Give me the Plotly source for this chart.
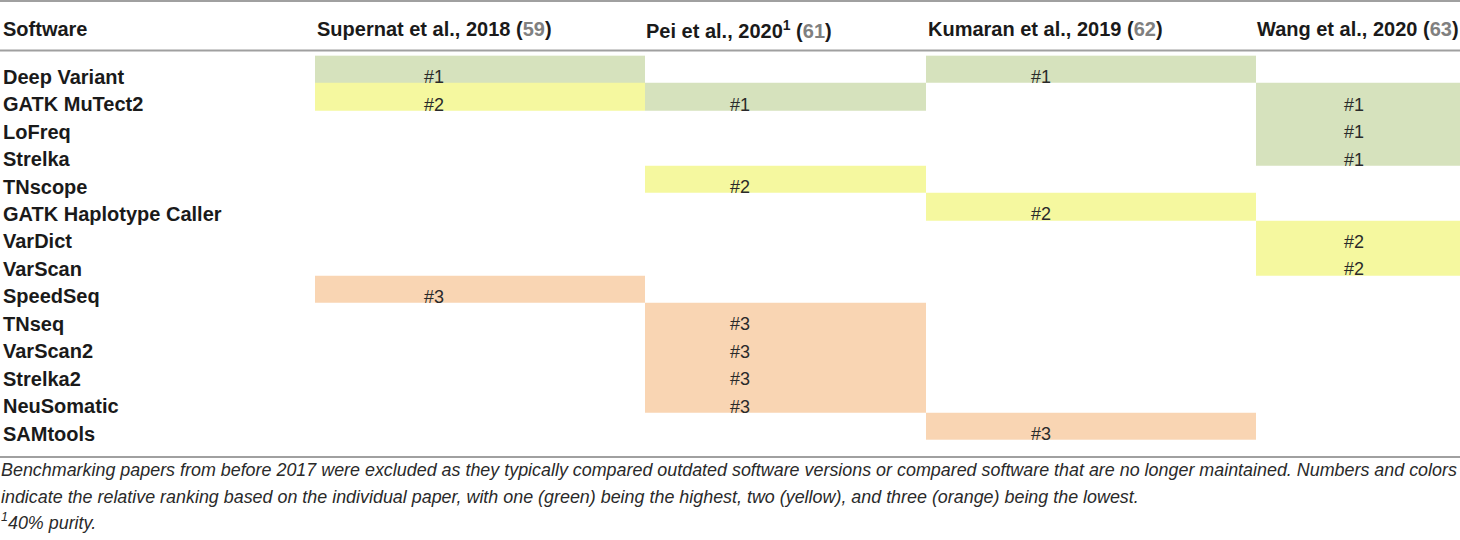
import plotly.graph_objects as go

# table content
software = ["Deep Variant", "GATK MuTect2", "LoFreq", "Strelka", "TNscope",
            "GATK Haplotype Caller", "VarDict", "VarScan", "SpeedSeq", "TNseq",
            "VarScan2", "Strelka2", "NeuSomatic", "SAMtools"]
papers = ["Supernat et al., 2018", "Pei et al., 2020<sup>1</sup>",
          "Kumaran et al., 2019", "Wang et al., 2020"]
refs = ["59", "61", "62", "63"]

# rank of each software in each paper (None = not ranked)
supernat = [1, 2, None, None, None, None, None, None, 3, None, None, None, None, None]
pei = [None, 1, None, None, 2, None, None, None, None, 3, 3, 3, 3, None]
kumaran = [1, None, None, None, None, 2, None, None, None, None, None, None, None, 3]
wang = [None, 1, 1, 1, None, None, 2, 2, None, None, None, None, None, None]

footnote = [
    "Benchmarking papers from before 2017 were excluded as they typically compared outdated "
    "software versions or compared software that are no longer maintained. Numbers and colors",
    "indicate the relative ranking based on the individual paper, with one (green) being the "
    "highest, two (yellow), and three (orange) being the lowest.",
    "<sup>1</sup>40% purity.",
]

W, H = 1460, 540
col_edges = [315, 645, 926, 1256, 1460]
col_text_x = [2, 316, 645, 927, 1256]
label_x = [434, 740, 1041, 1354]
row_top, row_h = 55.7, 27.45
row_edges = [row_top + row_h * i for i in range(len(software) + 1)]
row_mid = [row_top + row_h * i + 21 for i in range(len(software))]

cols = [supernat, pei, kumaran, wang]
z = [[c[i] for c in cols] for i in range(len(software))]

green, yellow, orange = "#d6e2bd", "#f5f89f", "#f9d5b3"

fig = go.Figure()
fig.add_trace(go.Heatmap(
    z=z, x=col_edges, y=row_edges, zmin=1, zmax=3,
    colorscale=[[0, green], [0.5, yellow], [1, orange]],
    showscale=False, hoverinfo="skip"))

lx, ly, lt = [], [], []
for j, c in enumerate(cols):
    for i, v in enumerate(c):
        if v is not None:
            lx.append(label_x[j])
            ly.append(row_mid[i] + 2)
            lt.append("#%d" % v)
fig.add_trace(go.Scatter(
    x=lx, y=ly, text=lt, mode="text", textposition="middle center",
    textfont=dict(family="Liberation Sans, Arial", size=18, color="#2a2a2a"),
    hoverinfo="skip"))

font_b = dict(family="Liberation Sans, Arial", size=20, color="#1a1a1a")
annos = [dict(x=col_text_x[0], y=29, text="<b>Software</b>")]
for j, p in enumerate(papers):
    annos.append(dict(x=col_text_x[j + 1], y=29,
                      text="<b>%s (<span style='color:#808080'>%s</span>)</b>" % (p, refs[j])))
for i, s in enumerate(software):
    annos.append(dict(x=col_text_x[0], y=row_mid[i], text="<b>%s</b>" % s))
for a in annos:
    a.update(xref="x", yref="y", xanchor="left", yanchor="middle",
             showarrow=False, font=font_b, borderpad=0)

for k, line in enumerate(footnote):
    annos.append(dict(x=0, y=[470, 496.5, 521][k], xref="x", yref="y",
                      xanchor="left", yanchor="middle", showarrow=False,
                      text="<i>%s</i>" % line, borderpad=0,
                      font=dict(family="Liberation Sans, Arial", size=17.9, color="#2a2a2a")))

lines = []
for yy in [1, 50.5, 457]:
    lines.append(dict(type="line", xref="x", yref="y", x0=0, x1=W, y0=yy, y1=yy,
                      line=dict(color="#a0a0a0", width=2), layer="above"))

fig.update_layout(
    width=W, height=H, margin=dict(l=0, r=0, t=0, b=0),
    paper_bgcolor="white", plot_bgcolor="white", showlegend=False,
    xaxis=dict(range=[0, W], visible=False, fixedrange=True),
    yaxis=dict(range=[H, 0], visible=False, fixedrange=True),
    annotations=annos, shapes=lines)

fig.write_html("out.html", config={"displayModeBar": False},
               post_script="document.body.style.margin='0px';"
                           "document.body.style.overflow='hidden';")
